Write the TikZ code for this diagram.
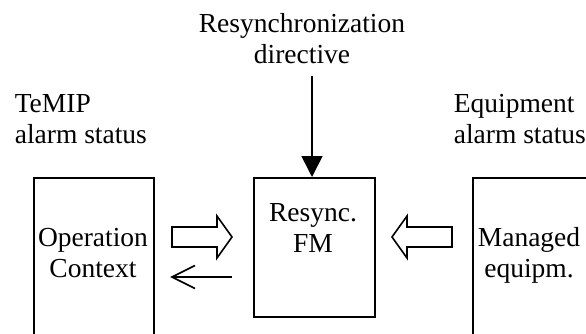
\documentclass[tikz,border=0pt]{standalone}
\usepackage{fontspec}
\setmainfont{Liberation Serif}
\usetikzlibrary{arrows.meta}
\begin{document}
\begin{tikzpicture}[x=1pt,y=-1pt,line width=1.6pt,
  lbl/.style={inner sep=0pt,font=\fontsize{27.5}{31}\selectfont,align=center,anchor=base},
  lbll/.style={lbl,align=left,anchor=base west},
  box/.style={draw,line width=1.6pt,inner sep=0pt,anchor=north west},
  fat/.style={draw,line width=1.6pt,line join=miter}]
\useasboundingbox (0,0) rectangle (586,333);
% boxes
\node[box,minimum width=120pt,minimum height=250pt] (oc) at (33,177) {};
\node[box,minimum width=121pt,minimum height=139pt] (fm) at (253,177) {};
\node[box,minimum width=200pt,minimum height=250pt] (me) at (472,177) {};
% labels (anchor base = baseline of last line)
\node[lbl] (resdir) at (302,63) {Resynchronization\\directive};
\node[lbll] (temip) at (14,143) {TeMIP\\alarm status};
\node[lbll] (equip) at (453,143) {Equipment\\alarm status};
\node[lbl] (octxt) at (93,277) {Operation\\Context};
\node[lbl] (fmtxt) at (313,252) {Resync.\\FM};
\node[lbl] (metxt) at (529,277) {Managed\\equipm.};
% vertical arrow
\coordinate (dtop) at (312,76);
\draw[-{Triangle[length=21pt,width=21pt]}] (dtop) -- (fm.north -| dtop);
% fat arrow right
\draw[fat] (172,227) -- (217,227) -- (217,216) -- (232,237) -- (217,258) -- (217,247) -- (172,247) -- cycle;
% fat arrow left
\draw[fat] (452,227) -- (407,227) -- (407,216) -- (392,237) -- (407,258) -- (407,247) -- (452,247) -- cycle;
% thin arrow left
\coordinate (ts) at (232,277);
\coordinate (te) at (172,277);
\draw (ts) -- (te);
\draw (195,265.5) -- (te) -- (195,288.5);
\end{tikzpicture}
\end{document}
